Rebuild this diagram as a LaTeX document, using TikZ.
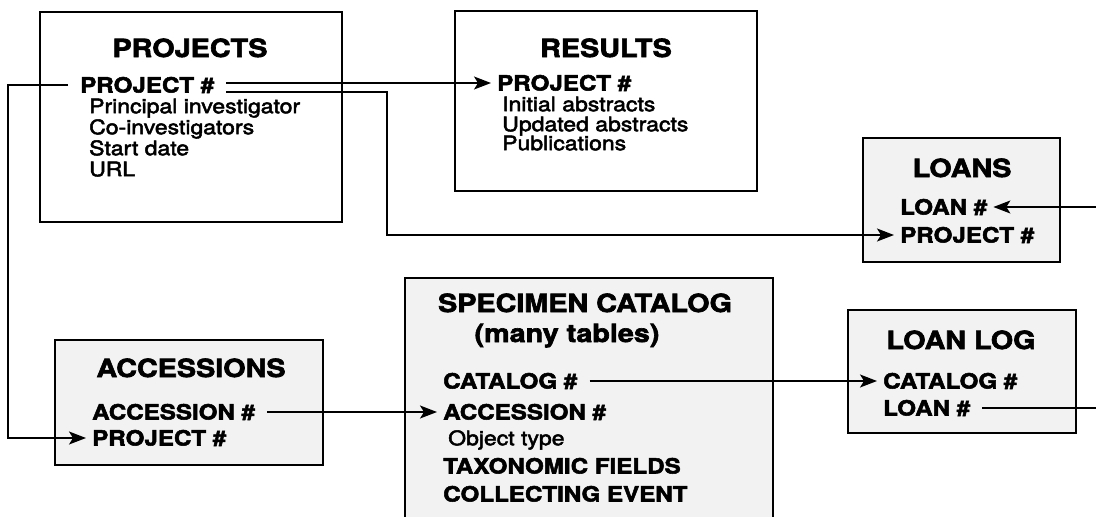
\documentclass[tikz,border=0pt]{standalone}
\usepackage{fontspec}
\setmainfont{TeX Gyre Heros}[FakeStretch=1.15,FakeBold=2.5]
\usetikzlibrary{arrows.meta,positioning}

\begin{document}
\begin{tikzpicture}[
  x=1pt, y=-1pt,
  tablebox/.style={draw,line width=2.6pt,fill=white},
  shadebox/.style={tablebox,fill=black!5},
  title/.style={anchor=base,inner sep=0pt,font=\bfseries\fontsize{25}{28}\selectfont},
  keyfield/.style={anchor=west,inner sep=0pt,text height=15pt,text depth=0pt,
                   font=\bfseries\fontsize{21}{24}\selectfont},
  field/.style={anchor=base west,inner sep=0pt,font=\fontsize{20}{23}\selectfont},
  link/.style={line width=1.5pt,shorten <=12pt},
  arrow/.style={link,-{Stealth[length=17pt,width=13pt,inset=4pt]},shorten >=6pt},
]
  \useasboundingbox (0,0) rectangle (1096,517);

  % Projects
  \node[tablebox,minimum width=302pt,minimum height=210pt] (projects) at (191,117) {};
  \node[title] (pjtitle) at (190,57) {PROJECTS};
  \node[keyfield] (pjkey) at (80,85) {PROJECT \#};
  \node[field] (pjpi) at (89,113.2) {Principal investigator};
  \node[field] (pjco) at (89,134.2) {Co-investigators};
  \node[field] (pjstart) at (89,155.2) {Start date};
  \node[field] (pjurl) at (89,176.2) {URL};

  % Results
  \node[tablebox,minimum width=302pt,minimum height=180pt] (results) at (606,101) {};
  \node[title] (rstitle) at (606,57) {RESULTS};
  \node[keyfield] (rskey) at (497,83) {PROJECT \#};
  \node[field] (rsinit) at (502,111.2) {Initial abstracts};
  \node[field] (rsupd) at (502,131.2) {Updated abstracts};
  \node[field] (rspub) at (502,150.2) {Publications};

  % Loans
  \node[shadebox,minimum width=197pt,minimum height=124pt] (loans) at (961.5,200) {};
  \node[title] (lntitle) at (962,177) {LOANS};
  \node[keyfield] (lnkey) at (900,207) {LOAN \#};
  \node[keyfield] (lnproj) at (900,235) {PROJECT \#};

  % Accessions
  \node[shadebox,minimum width=268pt,minimum height=125pt] (accessions) at (189,402.5) {};
  \node[title] (actitle) at (191,377) {ACCESSIONS};
  \node[keyfield] (ackey) at (92,412) {ACCESSION \#};
  \node[keyfield] (acproj) at (92,438) {PROJECT \#};

  % Specimen catalog
  \node[shadebox,minimum width=368pt,minimum height=252pt] (catalog) at (589,404) {};
  \node[title] (cttitle) at (585,312) {SPECIMEN CATALOG};
  \node[title] (ctsub) at (567,342) {(many tables)};
  \node[keyfield] (ctkey) at (443,381) {CATALOG \#};
  \node[keyfield] (ctacc) at (443,412) {ACCESSION \#};
  \node[field] (cttype) at (448,445.2) {Object type};
  \node[keyfield] (cttax) at (443,466) {TAXONOMIC FIELDS};
  \node[keyfield] (ctcoll) at (443,494) {COLLECTING EVENT};

  % Loan log
  \node[shadebox,minimum width=228pt,minimum height=123pt] (loanlog) at (962,371.5) {};
  \node[title] (lltitle) at (961,349) {LOAN LOG};
  \node[keyfield] (llcat) at (883,381) {CATALOG \#};
  \node[keyfield] (llloan) at (883,408) {LOAN \#};

  % Links
  \coordinate (pjturn) at (387,92);
  \coordinate (pjleft) at (8,85);
  \coordinate (offedge) at (1112,408);
  \draw[arrow] (pjkey.east |- rskey.west) -- (rskey.west);
  \draw[arrow] ([yshift=-7pt]pjkey.east) -- (pjturn) |- (lnproj.west);
  \draw[arrow] (pjkey.west) -- (pjleft) |- (acproj.west);
  \draw[arrow] (ackey.east) -- (ctacc.west);
  \draw[arrow] (ctkey.east) -- (llcat.west);
  \draw[arrow] (llloan.east) -- (offedge) |- (lnkey.east);
\end{tikzpicture}
\end{document}
